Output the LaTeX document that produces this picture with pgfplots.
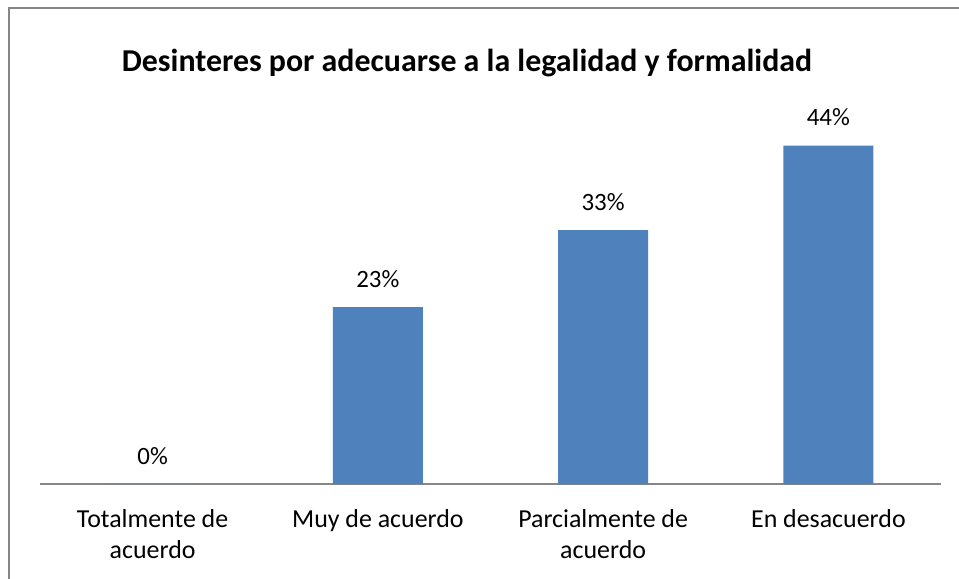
\documentclass[border=0pt]{standalone}
\usepackage{pgfplots}
\pgfplotsset{compat=1.18}
\usepackage{fontspec}
\setmainfont{Carlito}
\definecolor{barblue}{HTML}{4F81BD}
\definecolor{framegray}{HTML}{868686}
\begin{document}
\begin{tikzpicture}[x=1bp,y=1bp]
\path[use as bounding box] (0,0) rectangle (959,-579);
\draw[framegray, line width=1.5bp] (9,-579) -- (9,-8) -- (959,-8);
\node[font=\bfseries\fontsize{32}{36}\selectfont, anchor=base, inner sep=0pt] at (467,-72) {Desinteres por adecuarse a la legalidad y formalidad};
\begin{axis}[
  at={(40bp,-484bp)}, anchor=south west,
  scale only axis,
  width=901bp, height=384.5bp,
  xmin=-0.5, xmax=3.5,
  ymin=0, ymax=50,
  axis x line=bottom, axis y line=none,
  axis line style={framegray, line width=1.5bp, -},
  xtick=data,
  xticklabels={{Totalmente de\\acuerdo},{Muy de acuerdo\\\mbox{}},{Parcialmente de\\acuerdo},{En desacuerdo\\\mbox{}}},
  xticklabel style={align=center, font=\fontsize{26}{31}\selectfont, anchor=base, yshift=-74bp, inner sep=0pt},
  major tick length=0pt,
  ybar, bar width=90bp,
  nodes near coords={\pgfmathprintnumber[assume math mode=true]{\pgfplotspointmeta}\%},
  every node near coord/.append style={font=\fontsize{25}{30}\selectfont, anchor=base, yshift=20bp, inner sep=0pt},
  clip=false,
]
\addplot[fill=barblue, draw=none] coordinates {(0,0) (1,23) (2,33) (3,44)};
\end{axis}
\end{tikzpicture}
\end{document}
